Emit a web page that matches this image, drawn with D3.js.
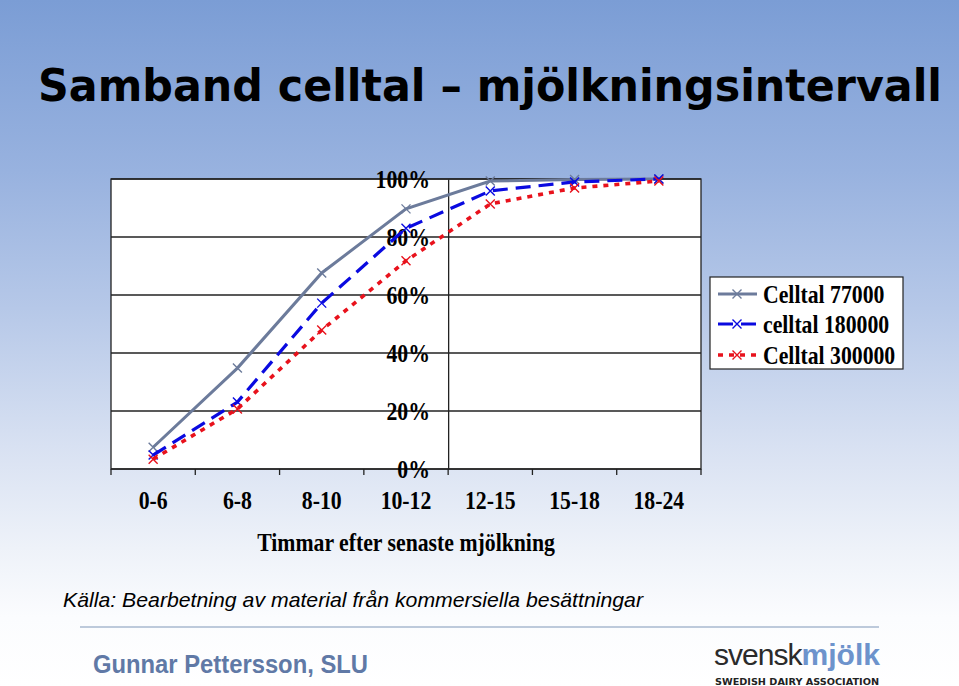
<!DOCTYPE html>
<html>
<head>
<meta charset="utf-8">
<script src="https://cdn.jsdelivr.net/npm/d3@7/dist/d3.min.js"></script>
<style>
  html, body { margin: 0; padding: 0; }
  body { width: 959px; height: 686px; overflow: hidden; }
</style>
</head>
<body>
<script>
// ---- Data ----
const categories = ["0-6", "6-8", "8-10", "10-12", "12-15", "15-18", "18-24"];
const seriesNames = ["Celltal 77000", "celltal 180000", "Celltal 300000"];
const celltal77000  = [0.075, 0.348, 0.676, 0.897, 0.993, 0.998, 1.000];
const celltal180000 = [0.048, 0.231, 0.572, 0.830, 0.959, 0.990, 1.000];
const celltal300000 = [0.034, 0.207, 0.479, 0.718, 0.914, 0.969, 0.993];
const yTicks = [0, 0.2, 0.4, 0.6, 0.8, 1.0];
const titleText = "Samband celltal \u2013 mjölkningsintervall";
const xAxisTitle = "Timmar efter senaste mjölkning";
const sourceText = "Källa: Bearbetning av material från kommersiella besättningar";
const authorText = "Gunnar Pettersson, SLU";

const seriesValues = [celltal77000, celltal180000, celltal300000];
const styles = [
  { color: "#6c7b9b", dash: null, width: 3 },
  { color: "#0a0ae0", dash: "15,8", width: 3.2 },
  { color: "#e8121c", dash: "5,6", width: 3.6 }
];

const W = 959, H = 686;
const svg = d3.select("body").append("svg").attr("width", W).attr("height", H);

// Background gradient
const defs = svg.append("defs");
const grad = defs.append("linearGradient").attr("id", "bg").attr("x1", 0).attr("y1", 0).attr("x2", 0).attr("y2", 1);
[[0, "#7b9dd5"], [0.25, "#98b2df"], [0.45, "#b6c8e8"], [0.65, "#d8e1f2"], [0.8, "#eef2f9"], [0.9, "#fbfcfe"], [1, "#ffffff"]]
  .forEach(([o, c]) => grad.append("stop").attr("offset", o).attr("stop-color", c));
svg.append("rect").attr("width", W).attr("height", H).attr("fill", "url(#bg)");

// Title
svg.append("text")
  .attr("x", 38).attr("y", 101)
  .attr("textLength", 904).attr("lengthAdjust", "spacingAndGlyphs")
  .style("font-family", "'DejaVu Sans Condensed', 'DejaVu Sans', sans-serif")
  .style("font-weight", "bold").style("font-size", "45px").attr("fill", "#000")
  .text(titleText);

// Plot scales
const pLeft = 111, pRight = 701, pTop = 179, pBottom = 469;
const x = d3.scaleBand().domain(categories).range([pLeft, pRight]);
const y = d3.scaleLinear().domain([0, 1]).range([pBottom, pTop]);

const serif = "'Liberation Serif', 'Times New Roman', serif";
const fs = "25px", sx = 0.87;

// Plot area
svg.append("rect").attr("x", pLeft).attr("y", pTop).attr("width", pRight - pLeft).attr("height", pBottom - pTop)
  .attr("fill", "#fff").attr("stroke", "#222").attr("stroke-width", 1.3);

// Gridlines
svg.append("g").selectAll("line").data(yTicks).join("line")
  .attr("x1", pLeft).attr("x2", pRight)
  .attr("y1", d => y(d)).attr("y2", d => y(d))
  .attr("stroke", "#222").attr("stroke-width", 1.5);

// X-axis boundary ticks
const bounds = categories.map(c => x(c)).concat([pRight]);
svg.append("g").selectAll("line").data(bounds).join("line")
  .attr("x1", d => d).attr("x2", d => d)
  .attr("y1", pBottom).attr("y2", pBottom + 6)
  .attr("stroke", "#222").attr("stroke-width", 1.3);

// Y axis crossing between category 4 and 5
const yAxisX = x(categories[4]);
const yAxis = svg.append("g").attr("transform", `translate(${yAxisX},0)`)
  .call(d3.axisLeft(y).tickValues(yTicks).tickFormat(d3.format(".0%")).tickSize(0).tickPadding(21));
yAxis.select(".domain").attr("stroke", "#222").attr("stroke-width", 1.3);
yAxis.selectAll("text").style("font-family", serif).style("font-weight", "bold")
  .style("font-size", fs).attr("fill", "#000").attr("transform", `scale(${sx},1)`);

// X axis labels
const xAxis = svg.append("g").attr("transform", `translate(0,${pBottom})`)
  .call(d3.axisBottom(x).tickSize(0).tickPadding(22));
xAxis.select(".domain").remove();
xAxis.selectAll("text").style("font-family", serif).style("font-weight", "bold")
  .style("font-size", fs).attr("fill", "#000").attr("transform", `scale(${sx},1)`);

// X axis title
svg.append("text").attr("transform", `translate(406,551) scale(${sx},1)`).attr("text-anchor", "middle")
  .style("font-family", serif).style("font-weight", "bold").style("font-size", fs)
  .text(xAxisTitle);

// Lines
const line = d3.line().x((d, i) => x(categories[i]) + x.bandwidth() / 2).y(d => y(d));
function cross(g, cx, cy, color, r) {
  g.append("path").attr("d", `M${cx - r},${cy - r}L${cx + r},${cy + r}M${cx - r},${cy + r}L${cx + r},${cy - r}`)
    .attr("stroke", color).attr("stroke-width", 1.4).attr("fill", "none");
}
seriesValues.forEach((vals, s) => {
  const st = styles[s];
  const g = svg.append("g");
  g.append("path").datum(vals).attr("d", line)
    .attr("fill", "none").attr("stroke", st.color).attr("stroke-width", st.width)
    .attr("stroke-dasharray", st.dash);
  vals.forEach((v, i) => cross(g, x(categories[i]) + x.bandwidth() / 2, y(v), st.color, 4.5));
});

// Legend
const lg = svg.append("g");
lg.append("rect").attr("x", 710).attr("y", 277).attr("width", 193).attr("height", 92)
  .attr("fill", "#fff").attr("stroke", "#222").attr("stroke-width", 1.2);
const rowY = [294, 324, 355];
seriesNames.forEach((name, s) => {
  const st = styles[s];
  const ry = rowY[s];
  lg.append("line").attr("x1", 718).attr("x2", 757).attr("y1", ry).attr("y2", ry)
    .attr("stroke", st.color).attr("stroke-width", st.width)
    .attr("stroke-dasharray", st.dash);
  cross(lg, 737, ry, st.color, 4.5);
  lg.append("text").attr("transform", `translate(763,${ry}) scale(${sx},1)`).attr("dy", "0.35em")
    .style("font-family", serif).style("font-weight", "bold").style("font-size", fs)
    .text(name);
});

// Source
svg.append("text").attr("x", 63).attr("y", 607)
  .attr("textLength", 580).attr("lengthAdjust", "spacingAndGlyphs")
  .style("font-family", "'Liberation Sans', Arial, sans-serif").style("font-style", "italic")
  .style("font-size", "21px").attr("fill", "#000")
  .text(sourceText);

// Separator
svg.append("line").attr("x1", 80).attr("x2", 879).attr("y1", 627).attr("y2", 627)
  .attr("stroke", "#a9b8cf").attr("stroke-width", 1.5);

// Author
svg.append("text").attr("x", 93).attr("y", 673)
  .attr("textLength", 275).attr("lengthAdjust", "spacingAndGlyphs")
  .style("font-family", "'Liberation Sans', Arial, sans-serif").style("font-weight", "bold")
  .style("font-size", "26px").attr("fill", "#6079a6")
  .text(authorText);

// Logo
const logo = svg.append("text").attr("x", 714).attr("y", 665)
  .attr("textLength", 166).attr("lengthAdjust", "spacingAndGlyphs")
  .style("font-family", "'Liberation Sans', Arial, sans-serif").style("font-size", "30px");
logo.append("tspan").attr("fill", "#2b2b2b").style("letter-spacing", "-1px").text("svensk");
logo.append("tspan").attr("fill", "#6d93cc").style("font-weight", "bold").text("mjölk");
svg.append("text").attr("x", 715).attr("y", 685)
  .attr("textLength", 164).attr("lengthAdjust", "spacingAndGlyphs")
  .style("font-family", "'DejaVu Sans', sans-serif").style("font-weight", "bold")
  .style("font-size", "8px").attr("fill", "#222")
  .text("SWEDISH DAIRY ASSOCIATION");
</script>
</body>
</html>
